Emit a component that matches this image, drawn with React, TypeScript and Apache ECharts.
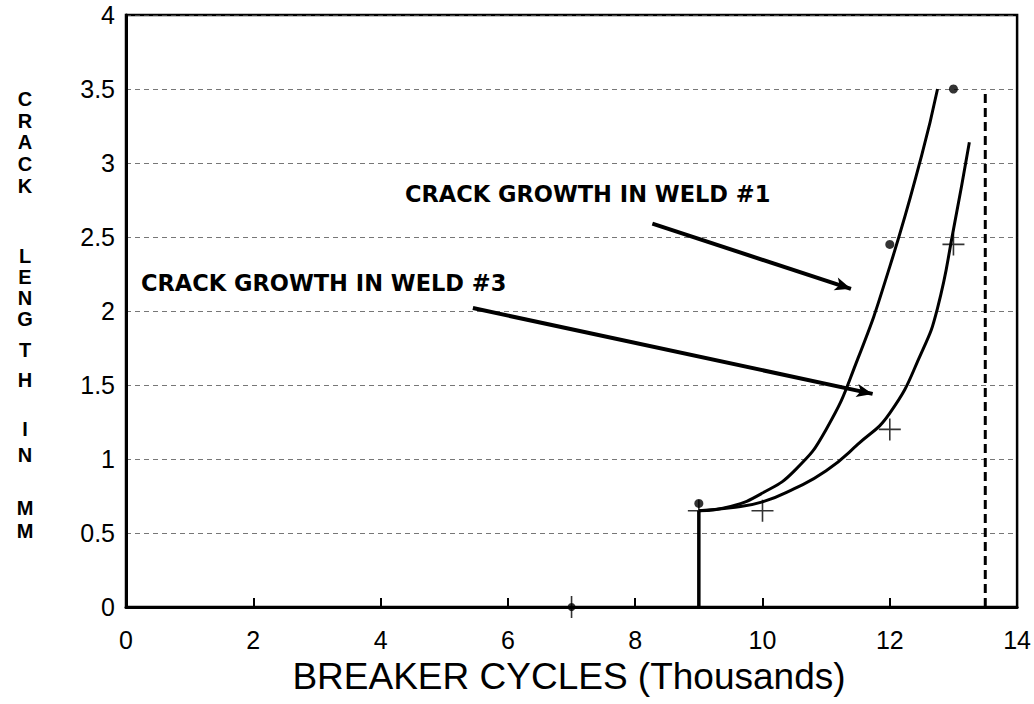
import React, { useEffect, useRef } from "react";
import * as echarts from "echarts";

// ---- data ----
const xTicks = [0, 2, 4, 6, 8, 10, 12, 14];
const yTicks = [0, 0.5, 1, 1.5, 2, 2.5, 3, 3.5, 4];

// fitted growth curve, weld #1 (x in thousands of cycles, y in mm)
const weld1Curve: [number, number][] = [
  [9, 0.65], [9.5, 0.68], [10, 0.77], [10.5, 0.92], [11, 1.2],
  [11.5, 1.68], [12, 2.3], [12.5, 3.05], [12.75, 3.5],
];
// fitted growth curve, weld #3
const weld3Curve: [number, number][] = [
  [9, 0.65], [9.5, 0.67], [10, 0.71], [10.5, 0.8], [11, 0.92], [11.5, 1.1],
  [12, 1.31], [12.5, 1.72], [12.75, 2.02], [13, 2.55], [13.25, 3.14],
];
// measured points
const weld1Points: [number, number][] = [[9, 0.7], [12, 2.45], [13, 3.5]];
const weld3Points: [number, number][] = [[9, 0.65], [10, 0.65], [12, 1.2], [13, 2.45]];
const axisPoint: [number, number][] = [[7, 0]];
const initialCrack: [number, number][] = [[9, 0], [9, 0.65]];
const limitLine: [number, number][] = [[13.5, 0], [13.5, 3.5]];

// annotation arrows (data coordinates)
const arrowWeld1: [number, number][] = [[8.27, 2.59], [11.39, 2.15]];
const arrowWeld3: [number, number][] = [[5.45, 2.02], [11.73, 1.44]];

const label1 = "CRACK GROWTH IN WELD #1";
const label3 = "CRACK GROWTH IN WELD #3";
const xTitle = "BREAKER CYCLES (Thousands)";
const yTitleLetters: [string, number][] = [
  ["C", 99], ["R", 121], ["A", 142], ["C", 164], ["K", 186],
  ["L", 256], ["E", 277], ["N", 298], ["G", 319], ["T", 350], ["H", 380],
  ["I", 429], ["N", 455],
  ["M", 508], ["M", 531],
];

const FONT = "'Liberation Sans', Arial, Helvetica, sans-serif";

export default function App() {
  const ref = useRef<HTMLDivElement>(null);
  useEffect(() => {
    if (!ref.current) return;
    const chart = echarts.init(ref.current, null, { renderer: "svg" });
    const crossSymbol = "path://M0,10L20,10M10,0L10,20";
    const option: any = {
      animation: false,
      backgroundColor: "#fff",
      grid: {
        left: 126,
        right: 13,
        top: 15,
        bottom: 97,
        show: true,
        borderColor: "#000",
        borderWidth: 2.5,
      },
      xAxis: {
        type: "value",
        min: xTicks[0],
        max: xTicks[xTicks.length - 1],
        interval: 2,
        axisLine: { show: true, lineStyle: { color: "#000", width: 3 } },
        axisTick: { show: true, inside: true, length: 9, lineStyle: { color: "#000", width: 2 } },
        axisLabel: { color: "#000", fontSize: 25, fontFamily: FONT, margin: 20 },
        splitLine: { show: false },
      },
      yAxis: {
        type: "value",
        min: yTicks[0],
        max: yTicks[yTicks.length - 1],
        interval: 0.5,
        axisLine: { show: true, lineStyle: { color: "#000", width: 3 } },
        axisTick: { show: false },
        axisLabel: { color: "#000", fontSize: 25, lineHeight: 25, fontFamily: FONT, margin: 11 },
        splitLine: { show: true, lineStyle: { color: "#555", width: 1, type: [5, 4], opacity: 0.8 } },
      },
      series: [
        {
          type: "line",
          data: weld1Curve,
          smooth: 0.5,
          showSymbol: false,
          lineStyle: { color: "#000", width: 3 },
          markLine: {
            silent: true,
            symbol: ["none", "arrow"],
            symbolSize: [10, 16],
            label: { show: false },
            lineStyle: { color: "#000", width: 4, type: "solid" },
            data: [
              [{ coord: arrowWeld1[0] }, { coord: arrowWeld1[1] }],
              [{ coord: arrowWeld3[0] }, { coord: arrowWeld3[1] }],
            ],
          },
        },
        {
          type: "line",
          data: weld3Curve,
          smooth: 0.5,
          showSymbol: false,
          lineStyle: { color: "#000", width: 3 },
        },
        {
          type: "line",
          data: initialCrack,
          showSymbol: false,
          lineStyle: { color: "#000", width: 3.5 },
        },
        {
          type: "line",
          data: limitLine,
          showSymbol: false,
          lineStyle: { color: "#000", width: 3, type: [9, 5] },
        },
        {
          type: "scatter",
          data: weld1Points,
          symbol: "circle",
          symbolSize: 9,
          itemStyle: { color: "#000" },
        },
        {
          type: "scatter",
          data: weld3Points,
          symbol: crossSymbol,
          symbolSize: 22,
          itemStyle: { color: "#000", borderColor: "#000", borderWidth: 1.6 },
        },
        {
          type: "scatter",
          data: axisPoint,
          symbol: "circle",
          symbolSize: 8,
          itemStyle: { color: "#000" },
        },
        {
          type: "scatter",
          data: axisPoint,
          symbol: crossSymbol,
          symbolSize: 22,
          itemStyle: { color: "#000", borderColor: "#000", borderWidth: 1.6 },
        },
      ],
      graphic: [
        {
          type: "text",
          left: 405,
          top: 182,
          style: { text: label1, fill: "#000", font: `bold 22.5px 'DejaVu Sans', sans-serif` },
        },
        {
          type: "text",
          left: 141,
          top: 271,
          style: { text: label3, fill: "#000", font: `bold 22.5px 'DejaVu Sans', sans-serif` },
        },
        {
          type: "text",
          x: 569,
          y: 676,
          style: {
            text: xTitle,
            fill: "#000",
            font: `37px ${FONT}`,
            align: "center",
            verticalAlign: "middle",
          },
        },
        ...yTitleLetters.map(([ch, y]) => ({
          type: "text",
          x: 25,
          y,
          style: {
            text: ch,
            fill: "#000",
            font: `bold 20px ${FONT}`,
            lineHeight: 20,
            align: "center",
            verticalAlign: "middle",
          },
        })),
      ],
    };
    chart.setOption(option);
    return () => chart.dispose();
  }, []);
  return (
    <div
      ref={ref}
      style={{ position: "fixed", left: 0, top: 0, width: 1034, height: 704, background: "#fff" }}
    />
  );
}
